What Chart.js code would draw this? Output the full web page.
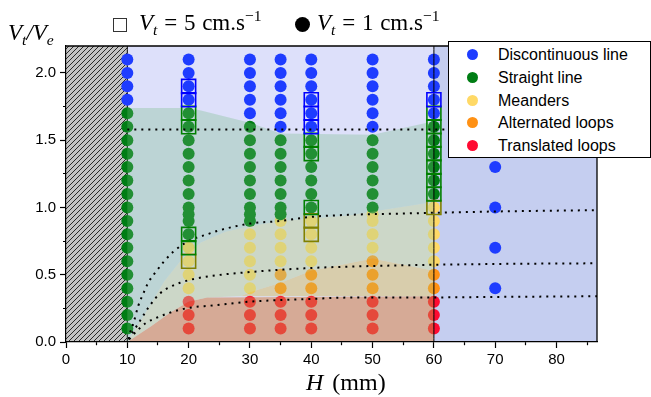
<!DOCTYPE html>
<html>
<head>
<meta charset="utf-8">
<title>Regimes map</title>
<script src="https://cdn.jsdelivr.net/npm/chart.js@4.4.1/dist/chart.umd.min.js"></script>
<style>
  html, body { margin:0; padding:0; background:#fff; }
  #wrap { position:relative; width:651px; height:397px; overflow:hidden; }
  #chart { position:absolute; left:0; top:0; }
  .serif { position:absolute; font-family:'Liberation Serif','Times New Roman',serif; color:#000; white-space:nowrap; line-height:1; }
  .lo { font-size:0.68em; position:relative; top:0.3em; }
  .hi { font-size:0.68em; position:relative; top:-0.55em; }
  #key { position:absolute; left:448px; top:41px; width:201px; height:115px; background:#fff; border:1px solid #000;
         font-family:'Liberation Sans',Arial,sans-serif; font-size:16px; color:#000; }
  #key .row { position:absolute; left:0; width:200px; height:20px; line-height:20px; }
  #key .dot { position:absolute; left:18px; top:4px; width:11px; height:11px; border-radius:50%; }
  #key .lbl { position:absolute; left:49px; top:0; white-space:nowrap; }
</style>
</head>
<body>
<div id="wrap">
  <canvas id="chart" width="651" height="397"></canvas>

  <div class="serif" style="left:8px; top:21px; font-size:23px"><i>V</i><span class="lo"><i>t</i></span><i>/V</i><span class="lo"><i>e</i></span></div>

  <div style="position:absolute; left:113px; top:18px; width:12px; height:12px; border:1px solid #333;"></div>
  <div class="serif" style="left:139px; top:11px; font-size:23px; word-spacing:1px"><i>V</i><span class="lo"><i>t</i></span> = 5 cm.s<span class="hi">−1</span></div>
  <div style="position:absolute; left:295px; top:17px; width:15px; height:15px; border-radius:50%; background:#000;"></div>
  <div class="serif" style="left:317px; top:11px; font-size:23px; word-spacing:1px"><i>V</i><span class="lo"><i>t</i></span> = 1 cm.s<span class="hi">−1</span></div>

  <div class="serif" style="left:306px; top:370px; font-size:24px; word-spacing:3px"><i>H</i> (mm)</div>

  <div id="key"></div>
</div>

<script>
// Each row: H (mm) first, then the Vt/Ve values observed at that H
const discontinuous = [
  [10, 2.1, 2.0, 1.9, 1.8],
  [20, 2.1, 2.0, 1.9, 1.8],
  [30, 2.1, 2.0, 1.9, 1.8, 1.7],
  [35, 2.1, 2.0, 1.9, 1.8, 1.7, 1.6],
  [40, 2.1, 2.0, 1.9, 1.8, 1.7, 1.6],
  [50, 2.1, 2.0, 1.9, 1.8, 1.7, 1.6],
  [60, 2.1, 2.0, 1.9, 1.8, 1.7],
  [70, 1.3, 1.0, 0.7, 0.4]
];
const straight = [
  [10, 1.7, 1.6, 1.5, 1.4, 1.3, 1.2, 1.1, 1.0, 0.9, 0.8, 0.7, 0.6, 0.5, 0.4, 0.3, 0.2, 0.1],
  [20, 1.7, 1.6, 1.5, 1.4, 1.3, 1.2, 1.1, 1.0, 0.95, 0.9, 0.8],
  [30, 1.6, 1.5, 1.4, 1.3, 1.2, 1.1, 1.0, 0.95, 0.9],
  [35, 1.5, 1.4, 1.3, 1.2, 1.1, 1.0, 0.95],
  [40, 1.5, 1.4, 1.3, 1.2, 1.1, 1.0],
  [50, 1.5, 1.4, 1.3, 1.2, 1.1, 1.0],
  [60, 1.6, 1.5, 1.4, 1.3, 1.2, 1.1]
];
const meanders = [
  [20, 0.7, 0.6, 0.5, 0.4],
  [30, 0.8, 0.7, 0.6, 0.5, 0.4],
  [35, 0.9, 0.8, 0.7, 0.6],
  [40, 0.9, 0.8, 0.7, 0.6],
  [50, 0.95, 0.9, 0.8, 0.7],
  [60, 1.0, 0.9, 0.8, 0.7, 0.6]
];
const alternated = [
  [35, 0.5, 0.4],
  [40, 0.5, 0.4],
  [50, 0.6, 0.5, 0.4],
  [60, 0.5, 0.4]
];
const translated = [
  [20, 0.3, 0.2, 0.1],
  [30, 0.3, 0.2, 0.1],
  [35, 0.3, 0.2, 0.1],
  [40, 0.3, 0.2, 0.1],
  [50, 0.3, 0.2, 0.1],
  [60, 0.3, 0.2, 0.1]
];

// runs at Vt = 5 cm/s (open squares), same row layout
const sqDiscontinuous = [[20, 1.9, 1.8], [40, 1.8, 1.7, 1.6], [60, 1.8]];
const sqStraight = [[20, 1.7, 1.6, 0.8, 0.7], [40, 1.5, 1.4, 1.0], [60, 1.7, 1.6, 1.5, 1.4, 1.3, 1.2, 1.1]];
const sqMeanders = [[20, 0.6], [40, 0.9, 0.8], [60, 1.0]];

// upper edges of the shaded regime zones, [H, Vt/Ve]
const straightTop = [[10, 1.74], [20, 1.74], [22, 1.72], [30, 1.63], [35, 1.55], [50, 1.54], [60, 1.64]];
const meandersTop = [[10, 0], [13, 0.22], [16, 0.45], [19, 0.62], [22, 0.74], [26, 0.82], [30, 0.86], [35, 0.9], [46, 0.94], [50, 0.97], [60, 1.04]];
const alternatedTop = [[28.5, 0.34], [30, 0.37], [35, 0.44], [40, 0.53], [50, 0.62], [60, 0.53]];
const translatedTop = [[10, 0], [14, 0.12], [17, 0.22], [20, 0.3], [23, 0.33], [60, 0.34]];

// dotted transition curves
const plateau = [[10, 1.58], [86.6, 1.58]];
const curveUpper = [[10.2, 0.02], [10.4, 0.06], [11, 0.14], [11.8, 0.27], [12.6, 0.36], [13.4, 0.44], [14.8, 0.53], [16, 0.6], [17.5, 0.67], [19.2, 0.73], [21, 0.77], [23, 0.8], [25, 0.83], [30, 0.88], [35, 0.9], [40, 0.93], [46, 0.945], [55, 0.955], [70, 0.97], [86.6, 0.98]];
const curveMiddle = [[10.2, 0.02], [11, 0.08], [12.1, 0.16], [13.5, 0.26], [15.3, 0.36], [17, 0.41], [18.6, 0.44], [21, 0.47], [23.5, 0.49], [30, 0.52], [40, 0.55], [46, 0.56], [55, 0.57], [70, 0.58], [86.6, 0.585]];
const curveLower = [[10.3, 0.02], [11.5, 0.08], [13, 0.14], [15.3, 0.19], [18.6, 0.24], [21, 0.26], [23.5, 0.27], [30, 0.3], [40, 0.32], [46, 0.33], [55, 0.33], [70, 0.335], [86.6, 0.34]];

const dividers = [10, 60];
const H_MAX = 86.6, V_MAX = 2.2;

const COLORS = {
  discontinuous: '#1e3cff',
  straight: '#007d14',
  meanders: '#ffd966',
  alternated: '#ff9114',
  translated: '#ff0a32'
};

const rowsToPoints = rows => rows.flatMap(([h, ...vals]) => vals.map(v => ({x: h, y: v})));
const pairs = arr => arr.map(([x, y]) => ({x, y}));

// closed outlines of the regime zones
const straightZone = [...straightTop, ...[...meandersTop].reverse()];
const meandersZone = [...meandersTop, [60, alternatedTop[alternatedTop.length - 1][1]], ...[...alternatedTop].reverse(),
  ...[...translatedTop].reverse().filter(p => p[0] < alternatedTop[0][0])];
const alternatedZone = [...alternatedTop, [60, translatedTop[translatedTop.length - 1][1]]];
const translatedZone = [...translatedTop, [60, 0]];

// hatched fill for the excluded strip H < 10
const tile = document.createElement('canvas');
tile.width = tile.height = 5;
const tc = tile.getContext('2d');
tc.fillStyle = '#c4c4c4';
tc.fillRect(0, 0, 5, 5);
tc.strokeStyle = '#2a2a2a';
tc.lineWidth = 1;
tc.beginPath();
tc.moveTo(-1, 6); tc.lineTo(6, -1);
tc.moveTo(-1, 1); tc.lineTo(1, -1);
tc.moveTo(4, 6); tc.lineTo(6, 4);
tc.stroke();
const hatch = tc.createPattern(tile, 'repeat');

const zone = (pts, color, order) => ({
  type: 'line', data: pairs(pts), fill: 'shape', backgroundColor: color,
  borderColor: 'transparent', borderWidth: 0, pointRadius: 0, tension: 0, order
});
const rule = (pts, order, dashed, width) => ({
  type: 'line', data: pairs(pts), fill: false, borderColor: '#000',
  borderWidth: width || (dashed ? 2 : 1), borderDash: dashed ? [2, 5] : [], pointRadius: 0,
  cubicInterpolationMode: 'monotone', order, clip: 3
});
const dots = (rows, color) => ({
  type: 'scatter', data: rowsToPoints(rows), backgroundColor: color, borderWidth: 0,
  pointRadius: 6, pointHoverRadius: 6, order: 10
});
const squares = (rows, color) => ({
  type: 'scatter', data: rowsToPoints(rows), pointStyle: 'rect', backgroundColor: 'rgba(0,0,0,0)',
  borderColor: color, borderWidth: 1.6, pointRadius: 9.9, order: 2
});

const datasets = [
  zone([[0, 0], [0, V_MAX], [10, V_MAX], [10, 0]], hatch, 20),
  zone([[10, 0], [10, V_MAX], [60, V_MAX], [60, 0]], 'rgb(221,224,250)', 19),
  zone([[60, 0], [60, V_MAX], [H_MAX, V_MAX], [H_MAX, 0]], 'rgb(197,206,240)', 19),
  rule([[dividers[0], 0], [dividers[0], V_MAX]], 15, false),
  dots(discontinuous, COLORS.discontinuous),
  dots(straight, COLORS.straight),
  dots(meanders, COLORS.meanders),
  dots(alternated, COLORS.alternated),
  dots(translated, COLORS.translated),
  zone(straightZone, 'rgba(111,184,130,0.3)', 8),
  zone(meandersZone, 'rgba(185,204,139,0.45)', 8),
  zone(alternatedZone, 'rgba(210,182,77,0.45)', 8),
  zone(translatedZone, 'rgba(208,126,68,0.55)', 8),
  rule([[dividers[1], 0], [dividers[1], V_MAX]], 6, false),
  rule(plateau, 5, true),
  rule(curveUpper, 5, true),
  rule(curveMiddle, 5, true),
  rule(curveLower, 5, true),
  squares(sqDiscontinuous, '#0000ff'),
  squares(sqStraight, '#008000'),
  squares(sqMeanders, '#808000'),
  // top and right edges of the plot frame
  rule([[0, V_MAX], [H_MAX, V_MAX]], 1, false, 1.3),
  rule([[H_MAX, V_MAX], [H_MAX, 0]], 1, false, 1.3)
];

const near = (a, b) => Math.abs(a - b) < 1e-6;
const tickFont = {family: "'Liberation Sans', Arial, sans-serif", size: 15};
const frame = {color: '#000', width: 1.2, z: 1};

new Chart(document.getElementById('chart'), {
  type: 'scatter',
  data: {datasets},
  options: {
    responsive: false,
    animation: false,
    devicePixelRatio: 1,
    layout: {padding: {left: 0, top: 46, right: 54, bottom: 0}},
    plugins: {legend: {display: false}, tooltip: {enabled: false}},
    scales: {
      x: {
        type: 'linear', min: 0, max: H_MAX, position: 'bottom',
        afterFit: s => { s.height = 55; },
        border: frame,
        grid: {
          drawOnChartArea: false, tickLength: 6, tickColor: '#000', tickWidth: 1.2,
          tickBorderDash: c => (c.tick && c.tick.value % 10 !== 0) ? [3, 100] : []
        },
        ticks: {
          stepSize: 5, includeBounds: false, autoSkip: false, maxRotation: 0, padding: 3,
          color: '#000', font: tickFont,
          callback: v => (v % 10 === 0 ? String(v) : '')
        }
      },
      y: {
        type: 'linear', min: 0, max: V_MAX, position: 'left',
        afterFit: s => { s.width = 66; },
        border: frame,
        grid: {
          drawOnChartArea: false, tickLength: 6, tickColor: '#000', tickWidth: 1.2,
          tickBorderDash: c => (c.tick && !near(c.tick.value * 2, Math.round(c.tick.value * 2))) ? [0, 3, 3, 100] : []
        },
        ticks: {
          stepSize: 0.25, includeBounds: false, autoSkip: false, padding: 4,
          color: '#000', font: tickFont,
          callback: v => (near(v * 2, Math.round(v * 2)) ? v.toFixed(1) : '')
        }
      }
    }
  }
});

// regime key
const keyItems = [
  ['Discontinuous line', COLORS.discontinuous],
  ['Straight line', COLORS.straight],
  ['Meanders', COLORS.meanders],
  ['Alternated loops', COLORS.alternated],
  ['Translated loops', COLORS.translated]
];
document.getElementById('key').innerHTML = keyItems.map(([label, color], i) => `
  <div class="row" style="top:${3 + i * 22.8}px">
    <span class="dot" style="background:${color}"></span>
    <span class="lbl">${label}</span>
  </div>`).join('');
</script>
</body>
</html>
